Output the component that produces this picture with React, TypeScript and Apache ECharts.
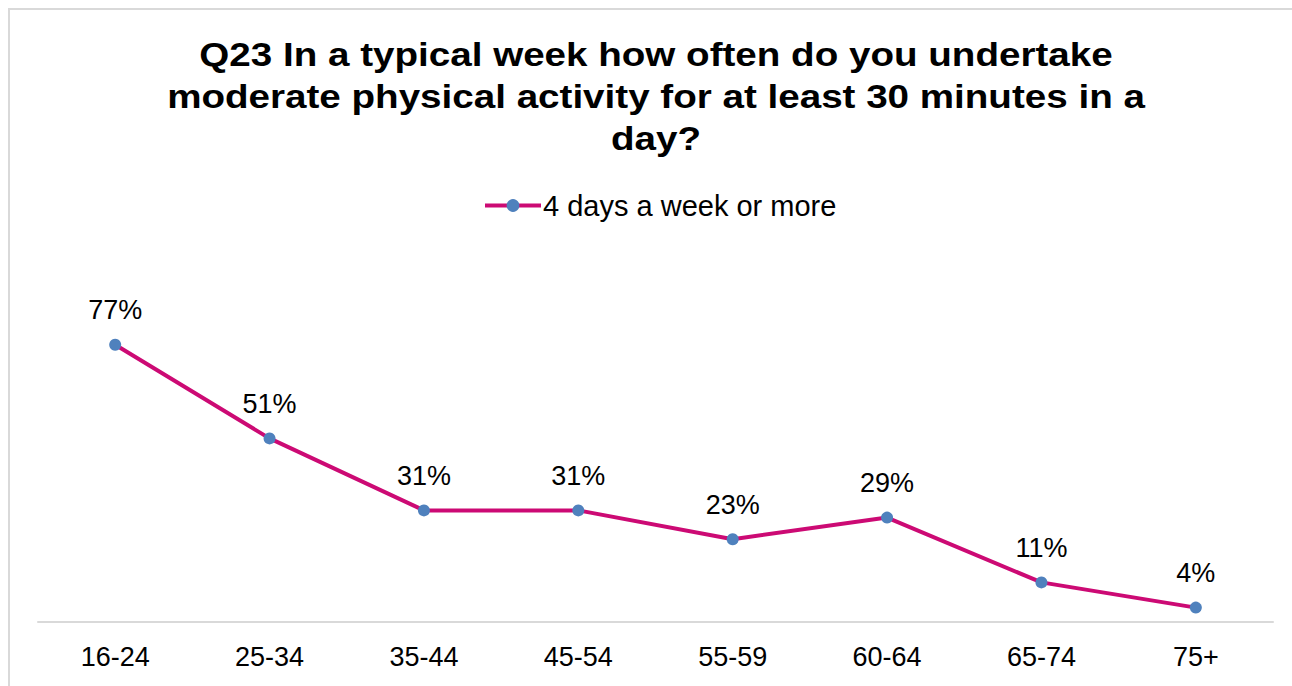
import React, { useEffect, useRef } from "react";
import * as echarts from "echarts";

const categories = ["16-24", "25-34", "35-44", "45-54", "55-59", "60-64", "65-74", "75+"];
const values = [77, 51, 31, 31, 23, 29, 11, 4];
const seriesName = "4 days a week or more";
const titleText =
  "Q23 In a typical week how often do you undertake\nmoderate physical activity for at least 30 minutes in a\nday?";

const FONT = "Arial, 'Liberation Sans', Helvetica, sans-serif";

export default function App() {
  const ref = useRef<HTMLDivElement>(null);
  useEffect(() => {
    const chart = echarts.init(ref.current!, null, { renderer: "svg" });
    chart.setOption({
      animation: false,
      backgroundColor: "#ffffff",
      graphic: [
        {
          type: "rect",
          shape: { x: 9, y: 9, width: 1400, height: 800 },
          style: { fill: "none", stroke: "#D9D9D9", lineWidth: 2 },
          silent: true,
        },
        {
          type: "text",
          x: 656,
          y: 33,
          scaleX: 1.135,
          silent: true,
          style: {
            text: titleText,
            fontFamily: FONT,
            fontWeight: "bold",
            fontSize: 34,
            lineHeight: 42,
            fill: "#000000",
            align: "center",
            textAlign: "center",
          },
        },
      ],
      legend: {
        top: 186,
        left: 478,
        itemWidth: 56,
        itemHeight: 16,
        itemGap: 10,
        lineStyle: { width: 4, color: "#CC0A74" },
        itemStyle: { color: "#4F81BD" },
        textStyle: { fontFamily: FONT, fontSize: 29, color: "#000000", padding: [0, 0, 0, -3] },
        data: [seriesName],
      },
      grid: { left: 38, right: 19, top: 262, bottom: 64 },
      xAxis: {
        type: "category",
        data: categories,
        boundaryGap: true,
        axisLine: { show: true, lineStyle: { color: "#D9D9D9", width: 2 } },
        axisTick: { show: false },
        axisLabel: { fontFamily: FONT, fontSize: 27, color: "#000000", margin: 21 },
        splitLine: { show: false },
      },
      yAxis: {
        type: "value",
        min: 0,
        max: 100,
        show: false,
        splitLine: { show: false },
      },
      series: [
        {
          name: seriesName,
          type: "line",
          data: values,
          symbol: "circle",
          symbolSize: 12,
          lineStyle: { color: "#CC0A74", width: 4 },
          itemStyle: { color: "#4F81BD" },
          label: {
            show: true,
            position: "top",
            distance: 15,
            formatter: "{c}%",
            fontFamily: FONT,
            fontSize: 27,
            color: "#000000",
          },
        },
      ],
    });
    return () => chart.dispose();
  }, []);
  return (
    <div
      ref={ref}
      style={{ position: "absolute", left: 0, top: 0, width: 1292, height: 686 }}
    />
  );
}
